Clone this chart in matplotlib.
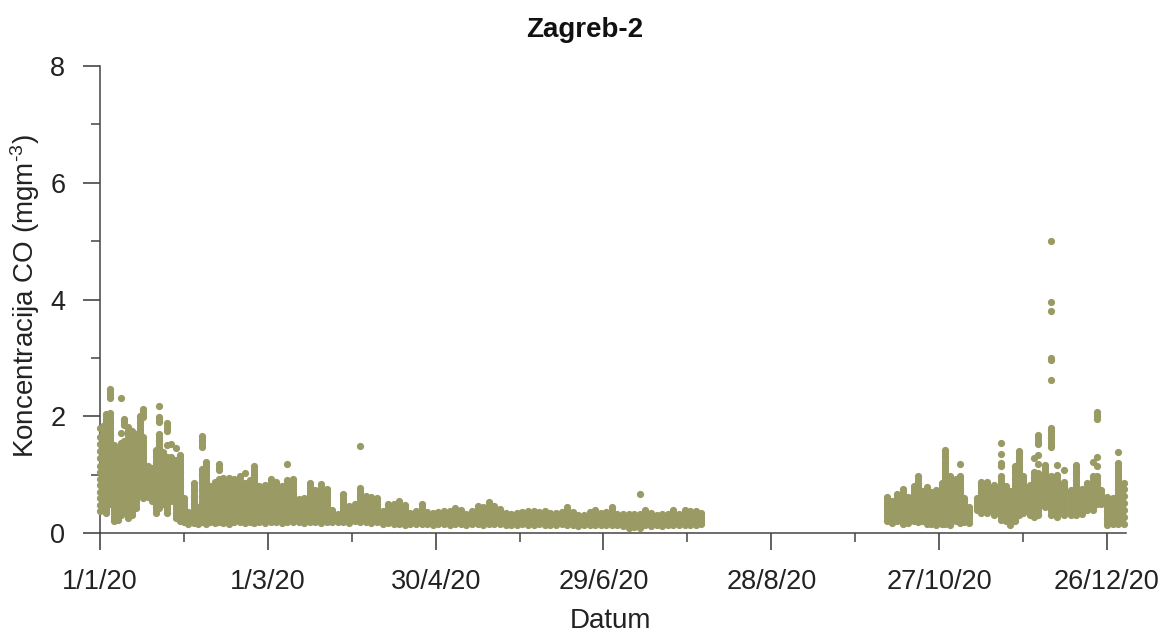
import matplotlib
matplotlib.use("Agg")
import matplotlib.pyplot as plt

plt.rcParams['font.family'] = ['Liberation Sans', 'DejaVu Sans']
plt.rcParams['mathtext.fontset'] = 'custom'
plt.rcParams['mathtext.rm'] = 'Liberation Sans'
plt.rcParams['mathtext.default'] = 'regular'

# readings per day
jan_days = [0, 1, 2, 3.5, 5, 6.5, 7.5, 8.5, 10, 11.5, 13, 14.3, 15.5, 17, 18.5, 20, 21, 22.5, 24, 25.5, 27, 28.5]
jan_co = [
    [.37, .48, .6, .7, .82, .93, 1.05, 1.15, 1.28, 1.4, 1.52, 1.65, 1.8],
    [.42, .55, .68, .8, .9, 1.02, 1.12, 1.25, 1.4, 1.55, 1.7, 1.84],
    [.35, .45, .6, .72, .85, .95, 1.1, 1.2, 1.35, 1.5, 1.62, 1.75, 1.9, 2.04],
    [.5, .62, .75, .85, .95, 1.05, 1.2, 1.3, 1.42, 1.55, 1.68, 1.8, 1.9, 2.05, 2.32, 2.47],
    [.2, .28, .38, .5, .6, .75, .88, 1.0, 1.1, 1.25, 1.4, 1.5],
    [.22, .3, .55, .68, .78, .9, 1.0, 1.12, 1.22, 1.35],
    [.3, .42, .52, .65, .8, .9, 1.03, 1.15, 1.28, 1.4, 1.55, 1.72, 2.32],
    [.35, .5, .62, .72, .85, .98, 1.1, 1.2, 1.32, 1.45, 1.58, 1.85, 1.95],
    [.25, .36, .48, .6, .72, .85, .95, 1.08, 1.2, 1.32, 1.45, 1.58, 1.72, 1.82],
    [.3, .4, .55, .68, .8, .92, 1.02, 1.15, 1.28, 1.4, 1.52, 1.65, 1.75],
    [.42, .55, .68, .8, .92, 1.05, 1.18, 1.3, 1.42, 1.55, 1.7],
    [.65, .78, .9, 1.0, 1.12, 1.25, 1.38, 1.5, 1.65, 1.78, 1.9, 2.0],
    [.6, .7, .82, .95, 1.08, 1.2, 1.3, 1.42, 1.55, 1.65, 1.98, 2.13],
    [.62, .72, .85, .95, 1.05, 1.15],
    [.55, .68, .8, .9, 1.0, 1.12],
    [.35, .45, .6, .72, .85, .95, 1.08, 1.2, 1.3, 1.42],
    [.42, .52, .62, .75, .85, .98, 1.1, 1.22, 1.35, 1.45, 1.6, 1.7, 1.9, 1.98, 2.17],
    [.5, .62, .75, .88, 1.0, 1.12, 1.25, 1.38],
    [.35, .45, .55, .68, .8, .92, 1.05, 1.18, 1.3, 1.5, 1.75, 1.88],
    [.55, .68, .8, .92, 1.05, 1.18, 1.3, 1.52],
    [.25, .35, .5, .62, .75, .88, 1.0, 1.1, 1.25, 1.45],
    [.2, .3, .42, .55, .68, .8, .92, 1.05, 1.18, 1.33],
]

spring_days = [30, 31.5, 33.5, 35, 36.5, 38, 39.5, 41, 42.5, 44, 46, 48, 50, 52, 53.5, 55, 57, 59, 61, 63, 65, 67, 69, 71,
               73, 75, 77, 79, 81, 83, 85, 87, 89, 91, 93, 95, 97, 99, 101, 103]
spring_co = [
    [.18, .27, .38, .5, .6], [.15, .25, .36], [.17, .27, .38, .5, .62, .74, .85], [.16, .26, .35, .45],
    [.18, .28, .4, .52, .64, .76, .88, 1.0, 1.1, 1.48, 1.58, 1.66], [.16, .26, .38, .5, .62, .74, .86, 1.0, 1.15, 1.22],
    [.18, .3, .42, .54, .66, .8], [.17, .27, .4, .52, .64, .76, .88], [.18, .3, .42, .54, .66, .8, .92, 1.08, 1.18],
    [.17, .28, .4, .5, .62, .74, .86, .95], [.16, .26, .38, .5, .62, .75, .87, .95], [.19, .3, .42, .54, .66, .78, .92],
    [.18, .28, .4, .52, .64, .76, .88, .98], [.17, .28, .38, .5, .62, .74, .86, 1.03], [.18, .3, .42, .54, .66, .78, .9],
    [.17, .28, .4, .52, .64, .76, .88, 1.0, 1.14], [.18, .28, .4, .52, .64, .76, .8], [.17, .27, .38, .5, .62, .74, .82],
    [.18, .3, .42, .54, .66, .78, .92], [.19, .3, .4, .52, .64, .76, .87], [.17, .28, .4, .52, .64, .74, .8],
    [.18, .3, .42, .54, .66, .78, .9, 1.18], [.19, .3, .42, .54, .66, .78, .92], [.18, .28, .38, .5, .58],
    [.17, .28, .4, .5, .6], [.18, .3, .4, .52, .64, .76, .86], [.19, .3, .42, .54, .66, .74], [.17, .28, .4, .52, .64, .76, .84],
    [.19, .3, .42, .54, .66, .76], [.18, .28, .4], [.19, .28, .33], [.18, .3, .42, .54, .66], [.17, .28, .38, .47],
    [.2, .3, .4, .5], [.18, .28, .4, .52, .64, .77, 1.49], [.18, .3, .42, .54, .64], [.17, .28, .4, .52, .61],
    [.18, .28, .4, .5, .6], [.16, .26, .37], [.17, .27, .38, .5],
]

summer_days = [105, 107, 109, 111, 113, 115, 117, 119, 121, 123, 125, 127, 129, 131, 133, 135, 137, 139, 141, 143, 145, 147,
               149, 151, 153, 155, 157, 159, 161, 163, 165, 167, 169, 171, 173, 175, 177, 179, 181, 183, 185, 187, 189, 191,
               193, 195, 197, 199, 201, 203, 205, 207, 209, 211, 213, 215]
summer_co = [
    [.16, .28, .4, .5], [.15, .27, .39, .54], [.14, .26, .38, .48], [.15, .25, .35], [.16, .27, .38], [.15, .27, .38, .5],
    [.16, .26, .36], [.14, .25, .35], [.15, .26, .36], [.16, .26, .37], [.14, .25, .37], [.15, .27, .38, .42], [.16, .26, .4],
    [.14, .24, .33], [.15, .27, .38], [.16, .28, .4, .46], [.14, .26, .38, .44], [.15, .27, .39, .53], [.16, .28, .4, .47],
    [.15, .26, .38, .41], [.14, .25, .35], [.13, .23, .33], [.14, .24, .34], [.15, .25, .36], [.13, .24, .37], [.14, .26, .38],
    [.15, .25, .36], [.14, .24, .38], [.13, .25, .35], [.14, .24, .34], [.15, .26, .36], [.14, .26, .38, .44], [.13, .25, .36],
    [.12, .22, .3], [.13, .23, .31], [.14, .25, .36], [.13, .25, .37, .4], [.14, .24, .34], [.13, .25, .36], [.14, .26, .38, .44],
    [.13, .24, .33], [.12, .23, .33], [.09, .21, .33], [.11, .22, .33], [.09, .21, .33, .67], [.13, .25, .36, .4], [.12, .24, .34],
    [.13, .23, .3], [.12, .22, .32], [.13, .23, .32], [.13, .25, .35, .4], [.14, .24, .32], [.13, .25, .36, .4], [.14, .26, .37],
    [.13, .25, .36, .38], [.15, .2, .26, .35],
]

autumn_days = [281.5, 283, 285, 287, 289, 291, 292.5, 294, 295.5, 297, 299, 301, 302, 304, 306, 307.5, 309, 310.5]
autumn_co = [
    [.2, .3, .42, .52, .62], [.17, .27, .37, .47, .54], [.2, .3, .42, .54, .66], [.15, .27, .38, .5, .62, .76],
    [.17, .28, .4, .52, .62], [.2, .3, .42, .54, .66, .8], [.18, .3, .42, .54, .66, .78, .85, .98], [.2, .3, .42, .54, .66, .72],
    [.16, .28, .4, .52, .64, .78], [.15, .27, .39, .51, .63, .7], [.14, .26, .38, .5, .62, .74], [.16, .28, .4, .52, .64, .76, .86],
    [.15, .27, .39, .51, .63, .75, .87, .98, 1.08, 1.2, 1.31, 1.42], [.14, .26, .38, .5, .62, .74, .86, .98],
    [.2, .32, .44, .56, .68, .8, .92], [.17, .29, .41, .53, .65, .77, .89, .97, 1.18], [.18, .3, .42, .54, .6], [.17, .29, .38, .45],
]

winter_days = [313.5, 315, 317, 319.5, 322, 324, 325.5, 327, 328.5, 330, 332.5, 334, 335.5, 338, 340, 342, 344.5, 347, 349, 351,
               353, 355, 356.5, 358, 360, 362, 364, 366]
winter_co = [
    [.4, .5, .6], [.35, .46, .58, .7, .82, .88], [.35, .47, .59, .71, .83, .88], [.3, .42, .54, .66, .78, .82],
    [.22, .34, .46, .58, .7, .82, .97, 1.14, 1.2, 1.36, 1.55], [.2, .32, .44, .56, .68, .8], [.14, .25, .37, .5, .62, .72],
    [.2, .32, .44, .56, .68, .8, .92, 1.03, 1.14], [.3, .42, .54, .66, .78, .9, 1.02, 1.12, 1.22, 1.31, 1.41], [.35, .47, .59, .71, .83, .97],
    [.3, .42, .54, .66, .78, .82], [.28, .4, .52, .64, .76, .85, .95, 1.05, 1.28], [.3, .42, .54, .66, .78, .9, 1.02, 1.18, 1.34, 1.53, 1.68],
    [.45, .57, .69, .81, .93, 1.05, 1.17],
    [.3, .42, .54, .66, .78, .9, .98, 1.48, 1.62, 1.75, 1.8, 2.62, 2.97, 2.99, 3.8, 3.96, 5.0],
    [.28, .4, .52, .64, .76, .88, 1.0, 1.17], [.3, .42, .54, .66, .78, .88, 1.08], [.3, .42, .54, .66, .74],
    [.3, .42, .54, .66, .78, .9, 1.02, 1.17], [.32, .44, .56, .68, .76], [.4, .52, .64, .76, .85], [.4, .52, .64, .76, .88, .97, 1.22],
    [.5, .62, .74, .86, .97, 1.14, 1.3, 1.95, 2.0, 2.08], [.5, .62, .73], [.14, .26, .38, .5, .62], [.15, .27, .39, .51, .6],
    [.15, .27, .39, .51, .63, .75, .87, .97, 1.08, 1.2, 1.38], [.15, .27, .39, .51, .63, .75, .85],
]

tick_days = [0, 60, 120, 180, 240, 300, 360]
tick_labels = ['1/1/20', '1/3/20', '30/4/20', '29/6/20', '28/8/20', '27/10/20', '26/12/20']
minor_days = [30, 90, 150, 210, 270, 330]

POINT_COLOR = '#9a9a64'
MAX_GAP = 0.155  # readings of one day closer than this overlap in the cloud

W, H = 1165, 634
fig = plt.figure(figsize=(W / 100, H / 100), dpi=100)
ax = fig.add_axes([100 / W, 1 - 533 / H, (1126 - 100) / W, (533 - 66) / H])

for days, rows in [(jan_days, jan_co), (spring_days, spring_co), (summer_days, summer_co),
                   (autumn_days, autumn_co), (winter_days, winter_co)]:
    xs = [d for d, row in zip(days, rows) for _ in row]
    ys = [v for row in rows for v in row]
    ax.scatter(xs, ys, s=27, color=POINT_COLOR, linewidths=0, clip_on=False, zorder=3)
    # the hourly readings merge into a solid cloud, so close each day's range
    for d, row in zip(days, rows):
        for lo, hi in zip(row, row[1:]):
            if hi - lo < MAX_GAP:
                ax.vlines(d, lo, hi, color=POINT_COLOR, linewidth=5, zorder=3)

ax.set_xlim(0, 366.8)
ax.set_ylim(0, 8)
ax.spines['top'].set_visible(False)
ax.spines['right'].set_visible(False)
for side in ['left', 'bottom']:
    ax.spines[side].set_linewidth(1.1)
    ax.spines[side].set_color('#444444')

ax.set_xticks(tick_days)
ax.set_xticklabels(tick_labels)
ax.set_xticks(minor_days, minor=True)
ax.set_yticks([0, 2, 4, 6, 8])
ax.set_yticks([1, 3, 5, 7], minor=True)
ax.tick_params(which='major', length=12, width=1.3, color='#555555', labelsize=19.5, labelcolor='#222222')
ax.tick_params(which='minor', length=6.5, width=1.1, color='#444444')
ax.tick_params(axis='x', which='major', pad=14)
ax.tick_params(axis='y', which='major', pad=13)

fig.text(585 / W, 1 - 30 / H, 'Zagreb-2', ha='center', va='center', fontsize=20, fontweight='bold', color='#111111')
fig.text(611 / W, 1 - 621 / H, 'Datum', ha='center', va='center', fontsize=20, color='#222222')
fig.text(25 / W, 1 - 296 / H, r'Koncentracija CO (mgm$^{\text{-}3}$)', ha='center', va='center',
         rotation=90, fontsize=20, color='#222222')

fig.savefig('out.png', dpi=100)
